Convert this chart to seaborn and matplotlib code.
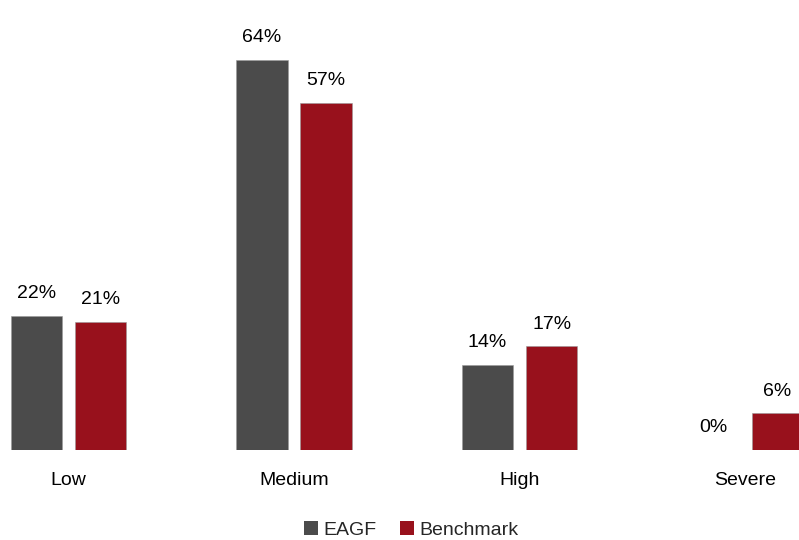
import matplotlib
matplotlib.use("Agg")
import matplotlib.pyplot as plt
import seaborn as sns
import pandas as pd
from matplotlib.patches import Patch
from matplotlib import font_manager

categories = ["Low", "Medium", "High", "Severe"]
series = ["EAGF", "Benchmark"]
eagf = [22, 64, 14, 0]
benchmark = [21, 57, 17, 6]
colors = ["#4b4b4b", "#98111c"]

df = pd.DataFrame({
    "category": categories * 2,
    "series": [series[0]] * 4 + [series[1]] * 4,
    "value": eagf + benchmark,
})

sns.set_theme(style="white")
installed = {f.name for f in font_manager.fontManager.ttflist}
narrow = "Liberation Sans Narrow" in installed
plt.rcParams["font.family"] = (["Liberation Sans Narrow"] if narrow else []) + ["Liberation Sans", "DejaVu Sans"]
fs = 15.5 if narrow else 14

fig = plt.figure(figsize=(7.99, 5.40), dpi=100)
ax = fig.add_axes([0, 90 / 540, 1, 450 / 540])

sns.barplot(data=df, x="category", y="value", hue="series", order=categories,
            hue_order=series, palette=colors, saturation=1, width=0.568, gap=0.2,
            edgecolor="#9a9a9a", linewidth=0.4, legend=False, ax=ax)

for container, vals in zip(ax.containers, [eagf, benchmark]):
    for bar, v in zip(container, vals):
        ax.annotate(f"{v}%", (bar.get_x() + bar.get_width() / 2, v),
                    xytext=(0, 10), textcoords="offset points",
                    ha="center", va="bottom", fontsize=fs, color="#000000")

ax.set_xlim(-0.304, 3.239)
ax.set_ylim(0, 73.85)
ax.set_xlabel("")
ax.set_ylabel("")
ax.set_yticks([])
ax.tick_params(axis="x", length=0, pad=16, labelsize=fs, labelcolor="#000000")
for s in ax.spines.values():
    s.set_visible(False)

handles = [Patch(facecolor=c, edgecolor="none") for c in colors]
fig.legend(handles, series, loc="center", bbox_to_anchor=(0.515, 1 - 530 / 540),
           ncol=2, frameon=False, fontsize=fs, handlelength=0.7, handleheight=0.7,
           handletextpad=0.3, columnspacing=1.2, borderpad=0)

fig.savefig("out.png", dpi=100)
